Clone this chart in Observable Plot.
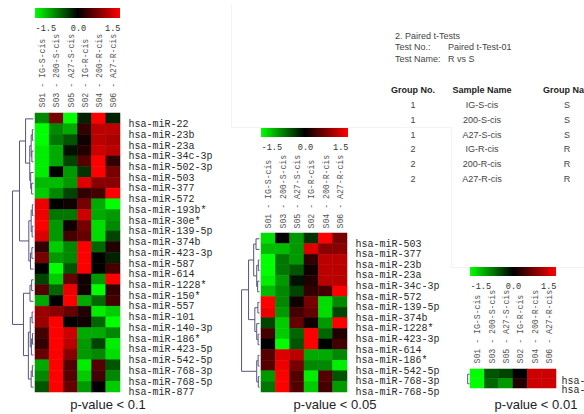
<!DOCTYPE html>
<html><head><meta charset="utf-8">
<script src="https://cdn.jsdelivr.net/npm/d3@7"></script>
<script src="https://cdn.jsdelivr.net/npm/@observablehq/plot@0.6"></script>
<style>
body{margin:0;background:#fff;}
#root{position:relative;width:584px;height:414px;overflow:hidden;background:#fff;font-family:"Liberation Sans",Arial,sans-serif;}
.t{position:absolute;font-size:9px;line-height:10px;white-space:nowrap;color:#444;}
.th{font-weight:bold;color:#222;}
.c{transform:translateX(-50%);}
.cap{position:absolute;font-size:13px;line-height:13px;color:#222;white-space:nowrap;transform:translateX(-50%);}
.edge{position:absolute;background:#f3f3f3;}
</style></head><body><div id="root"></div>
<script>
// ---------- data ----------
const samples = ["S01 - IG-S-cis","S03 - 200-S-cis","S05 - A27-S-cis","S02 - IG-R-cis","S04 - 200-R-cis","S06 - A27-R-cis"];
const legendTicks = [-1.5, 0, 1.5];
const colorStops = ["#00ff00", "#000000", "#ff0000"];

const rows1 = ["hsa-miR-22","hsa-miR-23b","hsa-miR-23a","hsa-miR-34c-3p","hsa-miR-502-3p","hsa-miR-503","hsa-miR-377","hsa-miR-572","hsa-miR-193b*","hsa-miR-30e*","hsa-miR-139-5p","hsa-miR-374b","hsa-miR-423-3p","hsa-miR-587","hsa-miR-614","hsa-miR-1228*","hsa-miR-150*","hsa-miR-557","hsa-miR-101","hsa-miR-140-3p","hsa-miR-186*","hsa-miR-423-5p","hsa-miR-542-5p","hsa-miR-768-3p","hsa-miR-768-5p","hsa-miR-877"];
const values1 = [
 [-0.8, 0.7,-1.5,-0.2, 1.5,-0.2],
 [-1.5,-0.8,-1.0, 0.3, 1.1, 1.1],
 [-1.5,-0.7,-0.5, 0.1, 1.1, 1.0],
 [-1.4,-1.0,-0.1, 0.2, 1.2, 1.1],
 [-1.4,-1.0,-0.4, 0.5, 1.5, 0.3],
 [-1.4, 0.0,-0.9,-0.3, 1.5, 0.7],
 [-1.1,-1.1,-0.9, 1.3, 0.8, 0.8],
 [-1.2,-0.8,-0.4, 0.3, 0.4, 1.5],
 [ 1.4, 0.0, 0.1, 0.7,-1.0,-1.5],
 [ 1.4,-0.7,-0.7, 1.2,-1.0,-0.9],
 [ 1.5,-0.9, 0.1, 0.7,-1.3,-0.8],
 [ 1.3,-0.9, 0.4, 0.6,-1.3,-0.4],
 [ 0.3,-1.2,-0.8, 1.5,-0.6, 0.2],
 [ 0.7,-0.9,-0.8, 1.5, 0.0,-0.2],
 [ 0.0,-1.5,-0.5, 1.5, 0.0, 0.4],
 [-0.4,-1.2, 0.6, 0.1,-0.9, 1.5],
 [ 0.5,-0.6, 1.4, 0.1,-1.5, 0.3],
 [-1.0, 0.0, 1.5,-1.0,-0.6, 0.4],
 [ 0.9, 0.8, 0.6, 0.2,-1.4,-1.2],
 [ 0.9, 1.5, 0.0, 0.1,-0.6,-1.5],
 [ 0.4, 1.5, 1.2,-1.0,-1.0,-0.8],
 [ 0.3, 1.5, 1.1,-0.9,-0.4,-1.4],
 [ 0.6, 1.5, 0.8,-0.9,-0.8,-1.3],
 [-1.0, 1.5, 0.5,-1.4, 0.5,-0.5],
 [-0.8, 1.5, 0.5,-1.2, 0.4,-0.8],
 [-0.5, 1.5, 0.6,-0.9, 0.0,-1.2]
];
const tree1 = [9,
  [6,
    [3.4, "hsa-miR-22",
      [1.6,
        [1.0, [0.5,"hsa-miR-23b","hsa-miR-23a"], [0.7,"hsa-miR-34c-3p","hsa-miR-502-3p"]],
        [1.2, "hsa-miR-503", [0.8,"hsa-miR-377","hsa-miR-572"]]]],
    [2.0,
      [1.0, [0.5,"hsa-miR-193b*","hsa-miR-30e*"], [0.6,"hsa-miR-139-5p","hsa-miR-374b"]],
      [1.3, [0.7,"hsa-miR-423-3p","hsa-miR-587"], "hsa-miR-614"]]],
  [4.3,
    [1.5, [0.8,"hsa-miR-1228*","hsa-miR-150*"], "hsa-miR-557"],
    [2.2,
      [1.4, [0.6,"hsa-miR-101","hsa-miR-140-3p"], [0.9,[0.4,"hsa-miR-186*","hsa-miR-423-5p"],"hsa-miR-542-5p"]],
      [1.0, [0.5,"hsa-miR-768-3p","hsa-miR-768-5p"], "hsa-miR-877"]]]];

const rows2 = ["hsa-miR-503","hsa-miR-377","hsa-miR-23b","hsa-miR-23a","hsa-miR-34c-3p","hsa-miR-572","hsa-miR-139-5p","hsa-miR-374b","hsa-miR-1228*","hsa-miR-423-3p","hsa-miR-614","hsa-miR-186*","hsa-miR-542-5p","hsa-miR-768-3p","hsa-miR-768-5p"];
const values2 = [
 [-1.3, 0.0,-0.9,-0.3, 1.5, 0.7],
 [-1.1,-1.1,-0.9, 1.3, 0.8, 0.8],
 [-1.5,-0.7,-0.9, 0.3, 1.1, 1.1],
 [-1.5,-0.7,-0.5, 0.1, 1.1, 1.1],
 [-1.4,-0.9,-0.1, 0.2, 1.1, 1.1],
 [-1.1,-0.8,-0.4, 0.3, 0.4, 1.5],
 [ 1.5,-0.8, 0.1, 0.7,-1.3,-0.8],
 [ 1.4,-0.9, 0.4, 0.6,-1.3,-0.4],
 [-0.4,-1.2, 0.6, 0.1,-0.9, 1.5],
 [ 0.4,-1.2,-0.6, 1.5,-0.6, 0.2],
 [ 0.0,-1.5,-0.5, 1.5, 0.0, 0.4],
 [ 0.5, 1.3, 1.1,-1.0,-1.0,-0.8],
 [ 0.5, 1.4, 0.7,-0.8,-0.8,-1.4],
 [-0.9, 1.5, 0.5,-1.4, 0.5,-0.5],
 [-0.7, 1.5, 0.5,-1.2, 0.4,-0.9]
];
const tree2 = [7.7,
  [4.7,
    [2.5, [1.5,"hsa-miR-503","hsa-miR-377"], [1.2,[0.5,"hsa-miR-23b","hsa-miR-23a"],[0.8,"hsa-miR-34c-3p","hsa-miR-572"]]],
    [2.0, [0.7,"hsa-miR-139-5p","hsa-miR-374b"], [1.2,"hsa-miR-1228*",[0.6,"hsa-miR-423-3p","hsa-miR-614"]]]],
  [1.2, [0.6,"hsa-miR-186*","hsa-miR-542-5p"], [0.5,"hsa-miR-768-3p","hsa-miR-768-5p"]]];

const rows3 = ["hsa-miR-23b","hsa-miR-23a"];
const values3 = [
 [-1.5,-0.5,-0.4, 0.0, 1.2, 1.2],
 [-1.5,-0.6,-0.9, 0.2, 1.2, 1.2]
];
const tree3 = [0.8, "hsa-miR-23b","hsa-miR-23a"];

const captions = ["p-value < 0.1","p-value < 0.05","p-value < 0.01"];

const testInfo = ["2. Paired t-Tests", "Test No.:", "Test Name:"];
const testValues = ["Paired t-Test-01", "R vs S"];
const tableHeaders = ["Group No.", "Sample Name", "Group Name"];
const groupNos = ["1","1","1","2","2","2"];
const sampleNames = ["IG-S-cis","200-S-cis","A27-S-cis","IG-R-cis","200-R-cis","A27-R-cis"];
const groupNames = ["S","S","S","R","R","R"];

// ---------- drawing ----------
const root = document.getElementById("root");
const mono = "'Liberation Mono','DejaVu Sans Mono',monospace";
const dendroColor = "#55557f";
const colorOpts = {type:"linear", domain:[-1.5,1.5], interpolate: d3.piecewise(d3.interpolateRgb, colorStops), clamp:true};

function place(el, left, top){
  el.style.position = "absolute";
  el.style.left = left + "px";
  el.style.top = top + "px";
  el.style.maxWidth = "none";
  root.appendChild(el);
}

function edge(left, top, w, h){
  const d = document.createElement("div");
  d.className = "edge";
  Object.assign(d.style, {left: left + "px", top: top + "px", width: w + "px", height: h + "px"});
  root.appendChild(d);
}
// faint window edges of the screenshot
edge(231, 5, 1, 123);
edge(231, 127, 220, 1);
edge(451, 127, 1, 141);
edge(451, 267, 133, 1);

function heatmap(rows, values, cfg){
  const data = rows.flatMap((g,i) => samples.map((s,j) => ({gene:g, sample:s, value:values[i][j]})));
  const H = rows.length * cfg.rowH, W = cfg.cellsW, mt = 95, mr = 110;
  const svg = Plot.plot({
    width: W + mr, height: H + mt,
    marginTop: mt, marginRight: mr, marginLeft: 0, marginBottom: 0,
    style: {fontFamily: mono, fontSize: "10px", color: "#2a2a2a", background: "transparent", overflow: "visible"},
    x: {domain: samples, padding: 0, round: false, axis: "top", tickRotate: -90, tickSize: 0, tickPadding: cfg.colPad, label: null},
    y: {domain: rows, padding: 0, round: false, axis: "right", tickSize: 0, tickPadding: cfg.rowPad, label: null},
    color: colorOpts,
    marks: [
      Plot.cell(data, {x: "sample", y: "gene", fill: "value", stroke: "value", strokeWidth: 0.5, inset: 0})
    ]
  });
  d3.select(svg).selectAll("text").each(function(){
    const t = d3.select(this);
    const s = this.textContent;
    if (samples.includes(s)) {
      t.attr("font-size", 8.2).style("font-size", "8.2px").attr("fill", "#555");
    } else if (rows.includes(s)) {
      t.attr("dy", cfg.rowDy);
    }
  });
  place(svg, cfg.left, cfg.top - mt);
}

function legend(cfg){
  const el = Plot.legend({
    color: colorOpts, width: cfg.w, height: cfg.h + 16,
    marginTop: 0, marginBottom: 16, marginLeft: 0, marginRight: 0,
    ticks: legendTicks, tickFormat: d => d.toFixed(1), tickSize: 0, label: null
  });
  const s = d3.select(el);
  s.selectAll(".tick line").remove();
  const txt = s.selectAll(".tick text").attr("y", 6.5).attr("font-family", mono).attr("font-size", 8.6).attr("fill", "#333");
  const n = txt.size();
  txt.each(function(d, i){
    if (i === 0) d3.select(this).attr("text-anchor", "start");
    if (i === n - 1) d3.select(this).attr("text-anchor", "end");
  });
  el.style.background = "transparent";
  el.style.overflow = "visible";
  place(el, cfg.left, cfg.top);
}

function dendrogram(tree, rows, cfg){
  const segs = [];
  function lay(node){
    if (typeof node === "string") return {y: rows.indexOf(node), h: 0};
    const [h, a, b] = node;
    const la = lay(a), lb = lay(b);
    segs.push({x1: la.h, y1: la.y, x2: h, y2: la.y});
    segs.push({x1: lb.h, y1: lb.y, x2: h, y2: lb.y});
    segs.push({x1: h, y1: la.y, x2: h, y2: lb.y});
    return {y: (la.y + lb.y) / 2, h};
  }
  lay(tree);
  const hmax = tree[0];
  const W = cfg.w, H = rows.length * cfg.rowH;
  const svg = Plot.plot({
    width: W, height: H, margin: 0,
    style: {background: "transparent", overflow: "visible"},
    x: {domain: [0, hmax], range: [W - cfg.gap, W - cfg.gap - hmax * cfg.ppu], axis: null},
    y: {type: "linear", domain: [-0.5, rows.length - 0.5], range: [0, H], axis: null},
    marks: [Plot.link(segs, {x1: "x1", y1: "y1", x2: "x2", y2: "y2", stroke: dendroColor, strokeWidth: 1})]
  });
  place(svg, cfg.left - W, cfg.top);
}

function text(str, left, top, cls){
  const d = document.createElement("div");
  d.className = cls;
  d.textContent = str;
  d.style.left = left + "px";
  d.style.top = top + "px";
  root.appendChild(d);
}

// panel 1
legend({left: 35, top: 8, w: 85, h: 10});
heatmap(rows1, values1, {left: 35, top: 113, cellsW: 85, rowH: 279/26, colPad: 6, rowPad: 8, rowDy: "0.5em"});
dendrogram(tree1, rows1, {left: 35, top: 113, rowH: 279/26, w: 30, gap: 2, ppu: 2.33});
// panel 2
legend({left: 261, top: 128, w: 87, h: 9});
heatmap(rows2, values2, {left: 261, top: 233, cellsW: 86, rowH: 159/15, colPad: 5, rowPad: 8, rowDy: "0.45em"});
dendrogram(tree2, rows2, {left: 261, top: 233, rowH: 159/15, w: 30, gap: 2, ppu: 2.33});
// panel 3
legend({left: 470, top: 267, w: 86, h: 9});
heatmap(rows3, values3, {left: 470, top: 369, cellsW: 86, rowH: 9.5, colPad: 6, rowPad: 5, rowDy: "0.65em"});
dendrogram(tree3, rows3, {left: 470, top: 369, rowH: 9.5, w: 10, gap: 1, ppu: 2.33});

// captions
const capX = [108, 335, 536];
captions.forEach((c, i) => text(c, capX[i], 398, "cap"));

// t-test info
text(testInfo[0], 395, 31, "t");
text(testInfo[1], 395, 42, "t");
text(testInfo[2], 395, 54, "t");
text(testValues[0], 448, 42, "t");
text(testValues[1], 448, 54, "t");
// table
const colX = [413, 482, 567];
text(tableHeaders[0], colX[0], 85, "t th c");
text(tableHeaders[1], colX[1], 85, "t th c");
text(tableHeaders[2], 543, 85, "t th");
sampleNames.forEach((s, r) => {
  const y = 100 + r * 14.8;
  text(groupNos[r], colX[0], y, "t c");
  text(s, colX[1], y, "t c");
  text(groupNames[r], colX[2], y, "t c");
});
</script></body></html>
